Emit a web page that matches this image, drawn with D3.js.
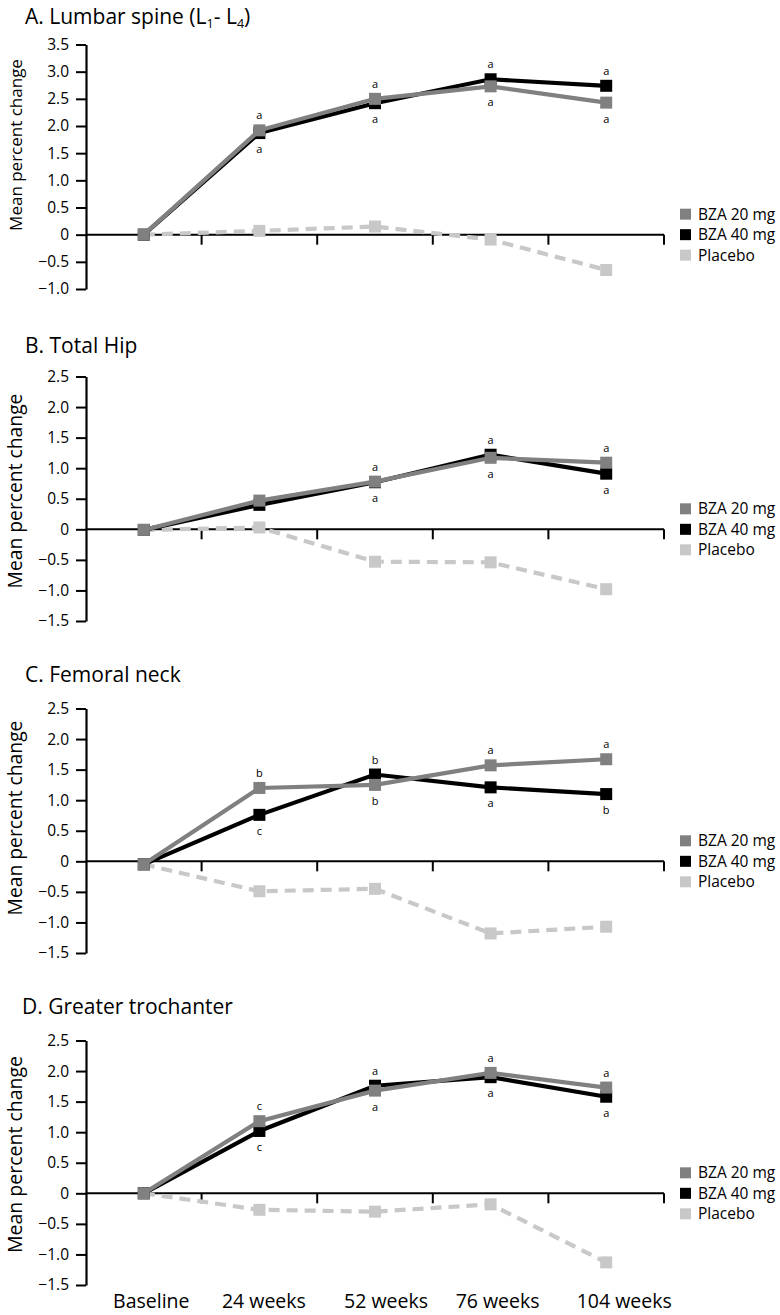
<!DOCTYPE html>
<html><head><meta charset="utf-8">
<script src="https://cdn.jsdelivr.net/npm/d3@7"></script>
<style>
body{margin:0;background:#fff}
svg{display:block;background:#fff}
text{font-family:"Open Sans",sans-serif;fill:#000}
</style>
</head><body>
<svg id="chart" width="780" height="1315"></svg>
<script>
// ---------- data ----------
const categories = ["Baseline", "24 weeks", "52 weeks", "76 weeks", "104 weeks"];
const seriesNames = ["BZA 20 mg", "BZA 40 mg", "Placebo"];

const lumbarTicks = [3.5, 3.0, 2.5, 2.0, 1.5, 1.0, 0.5, 0, -0.5, -1.0];
const hipTicks = [2.5, 2.0, 1.5, 1.0, 0.5, 0, -0.5, -1.0, -1.5];

const lumbar20 = [0, 1.92, 2.50, 2.73, 2.43];
const lumbar40 = [0, 1.87, 2.42, 2.86, 2.74];
const lumbarPlacebo = [0, 0.07, 0.15, -0.09, -0.65];
const lumbar20Sig = ["", "a", "a", "a", "a"];
const lumbar40Sig = ["", "a", "a", "a", "a"];

const totalHip20 = [-0.01, 0.47, 0.78, 1.17, 1.09];
const totalHip40 = [-0.01, 0.40, 0.77, 1.22, 0.91];
const totalHipPlacebo = [-0.01, 0.03, -0.53, -0.54, -0.98];
const totalHip20Sig = ["", "", "a", "a", "a"];
const totalHip40Sig = ["", "", "a", "a", "a"];

const femNeck20 = [-0.05, 1.20, 1.25, 1.57, 1.67];
const femNeck40 = [-0.05, 0.76, 1.42, 1.21, 1.10];
const femNeckPlacebo = [-0.05, -0.49, -0.45, -1.18, -1.07];
const femNeck20Sig = ["", "b", "b", "a", "a"];
const femNeck40Sig = ["", "c", "b", "a", "b"];

const troch20 = [0, 1.18, 1.68, 1.97, 1.73];
const troch40 = [0, 1.02, 1.76, 1.90, 1.58];
const trochPlacebo = [0, -0.27, -0.30, -0.18, -1.13];
const troch20Sig = ["", "c", "a", "a", "a"];
const troch40Sig = ["", "c", "a", "a", "a"];

const panelTitles = ["A. Lumbar spine (L", "B. Total Hip", "C. Femoral neck", "D. Greater trochanter"];
const yAxisLabel = "Mean percent change";

const panels = [
  {title: panelTitles[0], sub: true, ticks: lumbarTicks, s20: lumbar20, s40: lumbar40, pl: lumbarPlacebo, sig20: lumbar20Sig, sig40: lumbar40Sig},
  {title: panelTitles[1], ticks: hipTicks, s20: totalHip20, s40: totalHip40, pl: totalHipPlacebo, sig20: totalHip20Sig, sig40: totalHip40Sig},
  {title: panelTitles[2], ticks: hipTicks, s20: femNeck20, s40: femNeck40, pl: femNeckPlacebo, sig20: femNeck20Sig, sig40: femNeck40Sig},
  {title: panelTitles[3], ticks: hipTicks, s20: troch20, s40: troch40, pl: trochPlacebo, sig20: troch20Sig, sig40: troch40Sig}
];

// ---------- layout / style ----------
const L = {left: 86, right: 664, firstTop: 44.5, step: 332, plotH: 244.5};
const titleDy = [-21, -24, -27, -27];
const titleX = [25, 25, 25, 22];
const yLabelMid = [100.5, 114.5, 109.5, 114];
const yLabelSize = [17, 19.3, 19.3, 19.5];
const xLabelShift = [7.5, 4.5, 11, 7, 18];
const colors = {"BZA 20 mg": "#808080", "BZA 40 mg": "#000000", "Placebo": "#c8c8c8"};

const svg = d3.select("#chart");
const x = d3.scaleBand().domain(categories).range([L.left, L.right]);
const cx = c => x(c) + x.bandwidth() / 2;
const fmt = d => d === 0 ? "0" : d3.format(".1f")(d);

panels.forEach((p, i) => {
  const top = L.firstTop + i * L.step;
  const y = d3.scaleLinear().domain([d3.min(p.ticks), d3.max(p.ticks)]).range([top + L.plotH, top]);
  const g = svg.append("g");

  // title
  const t = g.append("text").attr("x", titleX[i]).attr("y", top + titleDy[i])
    .attr("font-size", 21).text(p.title);
  if (p.sub) {
    t.append("tspan").attr("font-size", 12.5).attr("dy", 4).text("1");
    t.append("tspan").attr("dy", -4).text("- L");
    t.append("tspan").attr("font-size", 12.5).attr("dy", 4).text("4");
    t.append("tspan").attr("dy", -4).text(")");
  }

  // y label
  g.append("text")
    .attr("transform", `translate(22,${top + yLabelMid[i]}) rotate(-90)`)
    .attr("text-anchor", "middle").attr("font-size", yLabelSize[i]).text(yAxisLabel);

  // y axis
  const ay = g.append("g").attr("transform", `translate(${L.left},0)`)
    .call(d3.axisLeft(y).tickValues(p.ticks).tickSize(10).tickSizeOuter(0).tickPadding(7).tickFormat(fmt));
  ay.select(".domain").attr("stroke", "#000").attr("stroke-width", 2.2);
  ay.selectAll(".tick line").attr("stroke", "#000").attr("stroke-width", 2);
  ay.selectAll(".tick text").attr("font-size", 15.5).attr("font-family", "'Open Sans',sans-serif").attr("fill", "#000");

  // x axis at zero
  const y0 = y(0);
  g.append("line").attr("x1", L.left).attr("x2", L.right).attr("y1", y0).attr("y2", y0)
    .attr("stroke", "#000").attr("stroke-width", 2);
  g.selectAll(".xt").data(categories).enter().append("line")
    .attr("x1", c => x(c) + x.bandwidth()).attr("x2", c => x(c) + x.bandwidth())
    .attr("y1", y0).attr("y2", y0 + 10).attr("stroke", "#000").attr("stroke-width", 2);

  // series
  const series = [
    {name: "Placebo", vals: p.pl, dash: "11,7"},
    {name: "BZA 40 mg", vals: p.s40},
    {name: "BZA 20 mg", vals: p.s20}
  ];
  const line = d3.line().x((d, j) => cx(categories[j])).y(d => y(d));
  series.forEach(s => {
    g.append("path").datum(s.vals).attr("d", line).attr("fill", "none")
      .attr("stroke", colors[s.name]).attr("stroke-width", 4.2)
      .attr("stroke-dasharray", s.dash || null).attr("stroke-linejoin", "miter");
    g.selectAll(null).data(s.vals).enter().append("rect")
      .attr("x", (d, j) => cx(categories[j]) - 6).attr("y", d => y(d) - 6)
      .attr("width", 12).attr("height", 12).attr("fill", colors[s.name]);
  });

  // significance letters
  const sigs = [{vals: p.s20, other: p.s40, sig: p.sig20}, {vals: p.s40, other: p.s20, sig: p.sig40}];
  sigs.forEach(s => {
    s.sig.forEach((lab, j) => {
      if (!lab) return;
      const above = s.vals[j] > s.other[j];
      g.append("text").attr("x", cx(categories[j])).attr("y", y(s.vals[j]) + (above ? -11 : 20))
        .attr("text-anchor", "middle").attr("font-size", 11).text(lab);
    });
  });

  // legend
  seriesNames.forEach((n, k) => {
    const ly = y0 + (k - 1) * 20.5;
    g.append("rect").attr("x", 680).attr("y", ly - 5.5).attr("width", 11).attr("height", 11).attr("fill", colors[n]);
    g.append("text").attr("x", 698).attr("y", ly).attr("dy", "0.36em").attr("font-size", 15.5).text(n);
  });

  // x labels on last panel
  if (i === panels.length - 1) {
    g.selectAll(".xl").data(categories).enter().append("text")
      .attr("x", (c, j) => cx(c) + xLabelShift[j]).attr("y", 1308).attr("text-anchor", "middle")
      .attr("font-size", 19.5).text(c => c);
  }
});
</script>
</body></html>
